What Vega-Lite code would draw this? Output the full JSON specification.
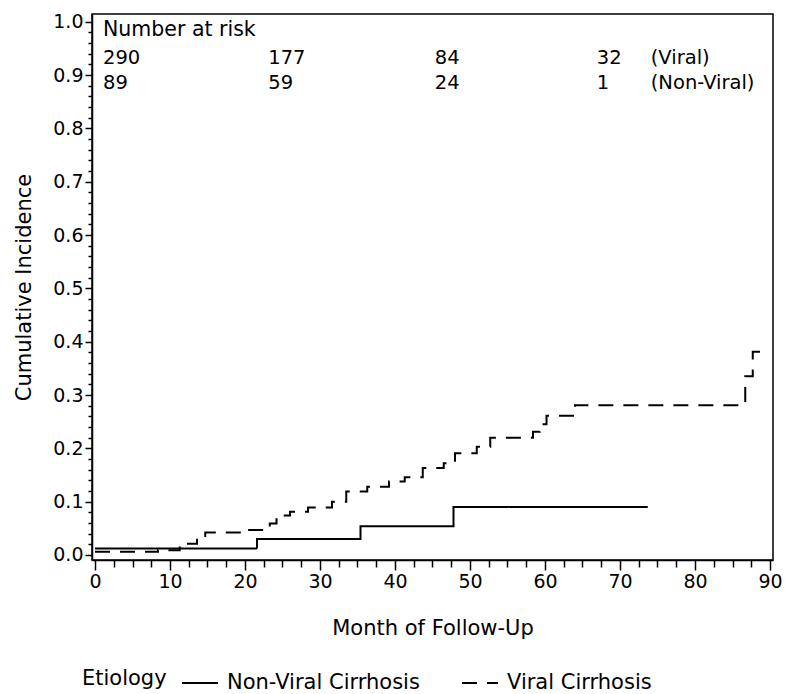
{
  "$schema": "https://vega.github.io/schema/vega-lite/v6.json",
  "width": 681,
  "height": 546,
  "autosize": {"type": "none"},
  "padding": {"left": 92, "top": 14, "right": 12, "bottom": 134},
  "background": "white",
  "config": {
    "font": "DejaVu Sans",
    "view": {"stroke": "black", "strokeWidth": 1.5},
    "axis": {"grid": false, "domainColor": "black", "tickColor": "black", "labelColor": "black", "titleColor": "black", "domainWidth": 1.5, "tickWidth": 1.5}
  },
  "datasets": {
    "curves": [
      {"group": "Viral Cirrhosis", "month": 0, "inc": 0.006},
      {"group": "Viral Cirrhosis", "month": 8.4, "inc": 0.009},
      {"group": "Viral Cirrhosis", "month": 11.3, "inc": 0.021},
      {"group": "Viral Cirrhosis", "month": 13.6, "inc": 0.031},
      {"group": "Viral Cirrhosis", "month": 14.7, "inc": 0.042},
      {"group": "Viral Cirrhosis", "month": 20.3, "inc": 0.047},
      {"group": "Viral Cirrhosis", "month": 23.3, "inc": 0.059},
      {"group": "Viral Cirrhosis", "month": 24.2, "inc": 0.074},
      {"group": "Viral Cirrhosis", "month": 26.0, "inc": 0.081},
      {"group": "Viral Cirrhosis", "month": 28.4, "inc": 0.089},
      {"group": "Viral Cirrhosis", "month": 31.6, "inc": 0.100},
      {"group": "Viral Cirrhosis", "month": 33.5, "inc": 0.119},
      {"group": "Viral Cirrhosis", "month": 36.3, "inc": 0.128},
      {"group": "Viral Cirrhosis", "month": 39.2, "inc": 0.138},
      {"group": "Viral Cirrhosis", "month": 41.3, "inc": 0.146},
      {"group": "Viral Cirrhosis", "month": 43.7, "inc": 0.163},
      {"group": "Viral Cirrhosis", "month": 46.5, "inc": 0.172},
      {"group": "Viral Cirrhosis", "month": 48.0, "inc": 0.191},
      {"group": "Viral Cirrhosis", "month": 50.9, "inc": 0.203},
      {"group": "Viral Cirrhosis", "month": 52.7, "inc": 0.220},
      {"group": "Viral Cirrhosis", "month": 58.4, "inc": 0.231},
      {"group": "Viral Cirrhosis", "month": 59.3, "inc": 0.245},
      {"group": "Viral Cirrhosis", "month": 60.2, "inc": 0.261},
      {"group": "Viral Cirrhosis", "month": 64.0, "inc": 0.281},
      {"group": "Viral Cirrhosis", "month": 86.7, "inc": 0.335},
      {"group": "Viral Cirrhosis", "month": 87.7, "inc": 0.381},
      {"group": "Viral Cirrhosis", "month": 88.7, "inc": 0.381},
      {"group": "Non-Viral Cirrhosis", "month": 0, "inc": 0.012},
      {"group": "Non-Viral Cirrhosis", "month": 21.6, "inc": 0.030},
      {"group": "Non-Viral Cirrhosis", "month": 35.4, "inc": 0.054},
      {"group": "Non-Viral Cirrhosis", "month": 47.8, "inc": 0.090},
      {"group": "Non-Viral Cirrhosis", "month": 73.7, "inc": 0.090}
    ],
    "risk": [
      {"month": 1.07, "inc": 0.984, "label": "Number at risk", "size": 20.5},
      {"month": 1.07, "inc": 0.932, "label": "290", "size": 19.5},
      {"month": 23.1, "inc": 0.932, "label": "177", "size": 19.5},
      {"month": 45.3, "inc": 0.932, "label": "84", "size": 19.5},
      {"month": 66.9, "inc": 0.932, "label": "32", "size": 19.5},
      {"month": 74.1, "inc": 0.932, "label": "(Viral)", "size": 19.5},
      {"month": 1.07, "inc": 0.885, "label": "89", "size": 19.5},
      {"month": 23.1, "inc": 0.885, "label": "59", "size": 19.5},
      {"month": 45.3, "inc": 0.885, "label": "24", "size": 19.5},
      {"month": 66.9, "inc": 0.885, "label": "1", "size": 19.5},
      {"month": 74.1, "inc": 0.885, "label": "(Non-Viral)", "size": 19.5}
    ]
  },
  "resolve": {"axis": {"x": "independent", "y": "independent"}},
  "layer": [
    {
      "data": {"name": "curves"},
      "mark": {"type": "line", "interpolate": "step-after", "color": "black", "strokeWidth": 2},
      "encoding": {
        "x": {"field": "month", "type": "quantitative",
              "scale": {"domain": [-0.4, 90.4], "nice": false, "zero": false},
              "axis": {"orient": "bottom", "title": "Month of Follow-Up", "values": [0,10,20,30,40,50,60,70,80,90], "tickSize": 10, "labelFontSize": 19, "titleFontSize": 21, "titleFontWeight": "normal", "labelPadding": 2, "titlePadding": 26, "labelFlush": false}},
        "y": {"field": "inc", "type": "quantitative",
              "scale": {"domain": [-0.0094, 1.0145], "nice": false, "zero": false},
              "axis": {"orient": "left", "title": "Cumulative Incidence", "values": [0,0.1,0.2,0.3,0.4,0.5,0.6,0.7,0.8,0.9,1.0], "format": ".1f", "tickSize": 7, "labelFontSize": 19, "titleFontSize": 21, "titleFontWeight": "normal", "labelPadding": 2, "titlePadding": 18, "labelFlush": false}},
        "strokeDash": {"field": "group", "type": "nominal",
              "scale": {"domain": ["Non-Viral Cirrhosis", "Viral Cirrhosis"], "range": [[1, 0], [15, 10]]},
              "legend": {"title": "Etiology", "orient": "none", "legendX": -10, "legendY": 650, "direction": "horizontal", "titleOrient": "left", "titleAnchor": "middle", "titleBaseline": "middle", "titleFontSize": 21, "titleFontWeight": "normal", "labelFontSize": 21, "labelLimit": 0, "symbolType": "stroke", "symbolSize": 1296, "symbolStrokeWidth": 2, "symbolStrokeColor": "black", "labelOffset": 8, "columnPadding": 38, "titlePadding": 14, "labelColor": "black", "titleColor": "black"}}
      }
    },
    {
      "data": {"name": "risk"},
      "mark": {"type": "text", "align": "left", "baseline": "middle", "color": "black"},
      "encoding": {
        "x": {"field": "month", "type": "quantitative",
              "axis": {"orient": "bottom", "title": null, "values": [2.5,5,7.5,12.5,15,17.5,22.5,25,27.5,32.5,35,37.5,42.5,45,47.5,52.5,55,57.5,62.5,65,67.5,72.5,75,77.5,82.5,85,87.5], "labels": false, "domain": false, "tickSize": 7}},
        "y": {"field": "inc", "type": "quantitative",
              "axis": {"orient": "left", "title": null, "values": [0.02,0.04,0.06,0.08,0.12,0.14,0.16,0.18,0.22,0.24,0.26,0.28,0.32,0.34,0.36,0.38,0.42,0.44,0.46,0.48,0.52,0.54,0.56,0.58,0.62,0.64,0.66,0.68,0.72,0.74,0.76,0.78,0.82,0.84,0.86,0.88,0.92,0.94,0.96,0.98], "labels": false, "domain": false, "tickSize": 4}},
        "text": {"field": "label"},
        "size": {"field": "size", "type": "quantitative", "scale": null, "legend": null}
      }
    }
  ]
}
